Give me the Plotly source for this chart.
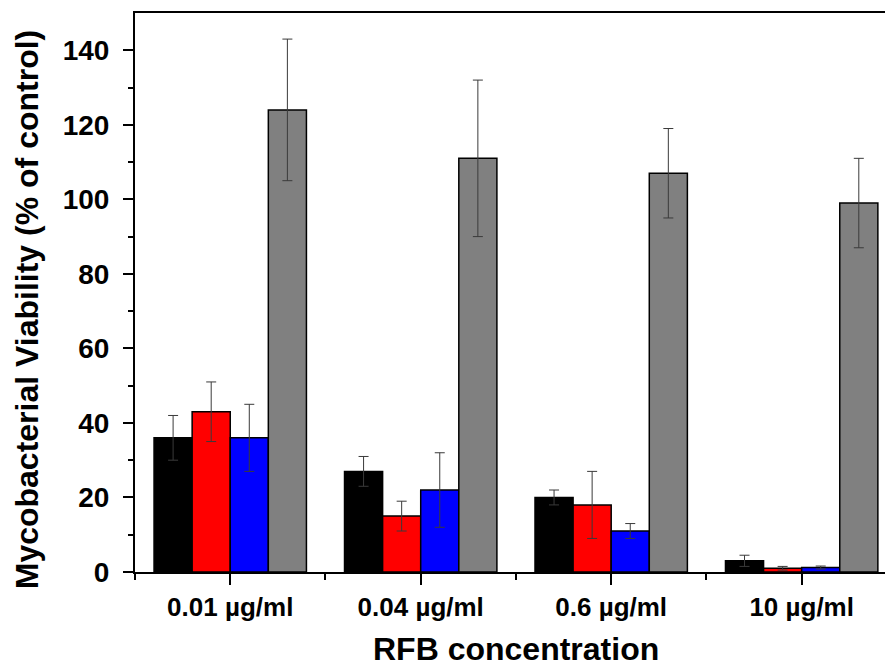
import plotly.graph_objects as go

categories = ["0.01 µg/ml", "0.04 µg/ml", "0.6 µg/ml", "10 µg/ml"]
series_names = ["A", "B", "C", "D"]
black_vals = [36, 27, 20, 3]
black_err = [6, 4, 2, 1.5]
red_vals = [43, 15, 18, 1]
red_err = [8, 4, 9, 0.5]
blue_vals = [36, 22, 11, 1.2]
blue_err = [9, 10, 2, 0.4]
gray_vals = [124, 111, 107, 99]
gray_err = [19, 21, 12, 12]

y_ticks = [0, 20, 40, 60, 80, 100, 120, 140]

xpos = list(range(len(categories)))
FONT = "Liberation Sans, Arial, sans-serif"

fig = go.Figure()
for name, vals, errs, color in [
    (series_names[0], black_vals, black_err, "#000000"),
    (series_names[1], red_vals, red_err, "#ff0000"),
    (series_names[2], blue_vals, blue_err, "#0000ff"),
    (series_names[3], gray_vals, gray_err, "#808080"),
]:
    fig.add_trace(go.Bar(
        x=xpos, y=vals, name=name,
        marker=dict(color=color, line=dict(color="#000000", width=1.5)),
        error_y=dict(type="data", array=errs, visible=True,
                     color="#3a3a3a", thickness=1, width=5),
        showlegend=False,
    ))

fig.update_layout(
    width=885, height=670,
    margin=dict(l=135, r=0, t=13, b=98),
    paper_bgcolor="white", plot_bgcolor="white",
    barmode="group", bargap=0.2, bargroupgap=0,
    font=dict(family=FONT, color="black"),
)

fig.update_xaxes(
    range=[-0.5, 3.4375],
    tickvals=xpos, ticktext=categories,
    tickfont=dict(family=FONT, size=26, weight="bold"),
    ticks="outside", ticklen=11, tickwidth=2, tickcolor="black",
    minor=dict(tickvals=[-0.5, 0.5, 1.5, 2.5, 3.5], ticks="outside",
               ticklen=6, tickwidth=2, tickcolor="black"),
    showline=True, linewidth=2, linecolor="black", mirror=True,
    showgrid=False, zeroline=False,
)

fig.update_yaxes(
    range=[0, 150],
    tickvals=y_ticks,
    tickfont=dict(family=FONT, size=28, weight="bold"),
    ticklabelstandoff=8,
    ticks="outside", ticklen=10, tickwidth=2, tickcolor="black",
    minor=dict(tickvals=[10, 30, 50, 70, 90, 110, 130], ticks="outside",
               ticklen=5, tickwidth=2, tickcolor="black"),
    showline=True, linewidth=2, linecolor="black", mirror=False,
    showgrid=False, zeroline=False,
)

fig.add_annotation(
    text="RFB concentration", xref="x", yref="paper",
    x=1.5, y=-0.138, xanchor="center", yanchor="middle", showarrow=False,
    font=dict(family=FONT, size=32, weight="bold", color="black"),
)
fig.add_annotation(
    text="Mycobacterial Viability (% of control)", xref="paper", yref="paper",
    x=-0.144, y=0.47, xanchor="center", yanchor="middle", textangle=-90,
    showarrow=False,
    font=dict(family=FONT, size=32, weight="bold", color="black"),
)

fig.write_html("out.html")
